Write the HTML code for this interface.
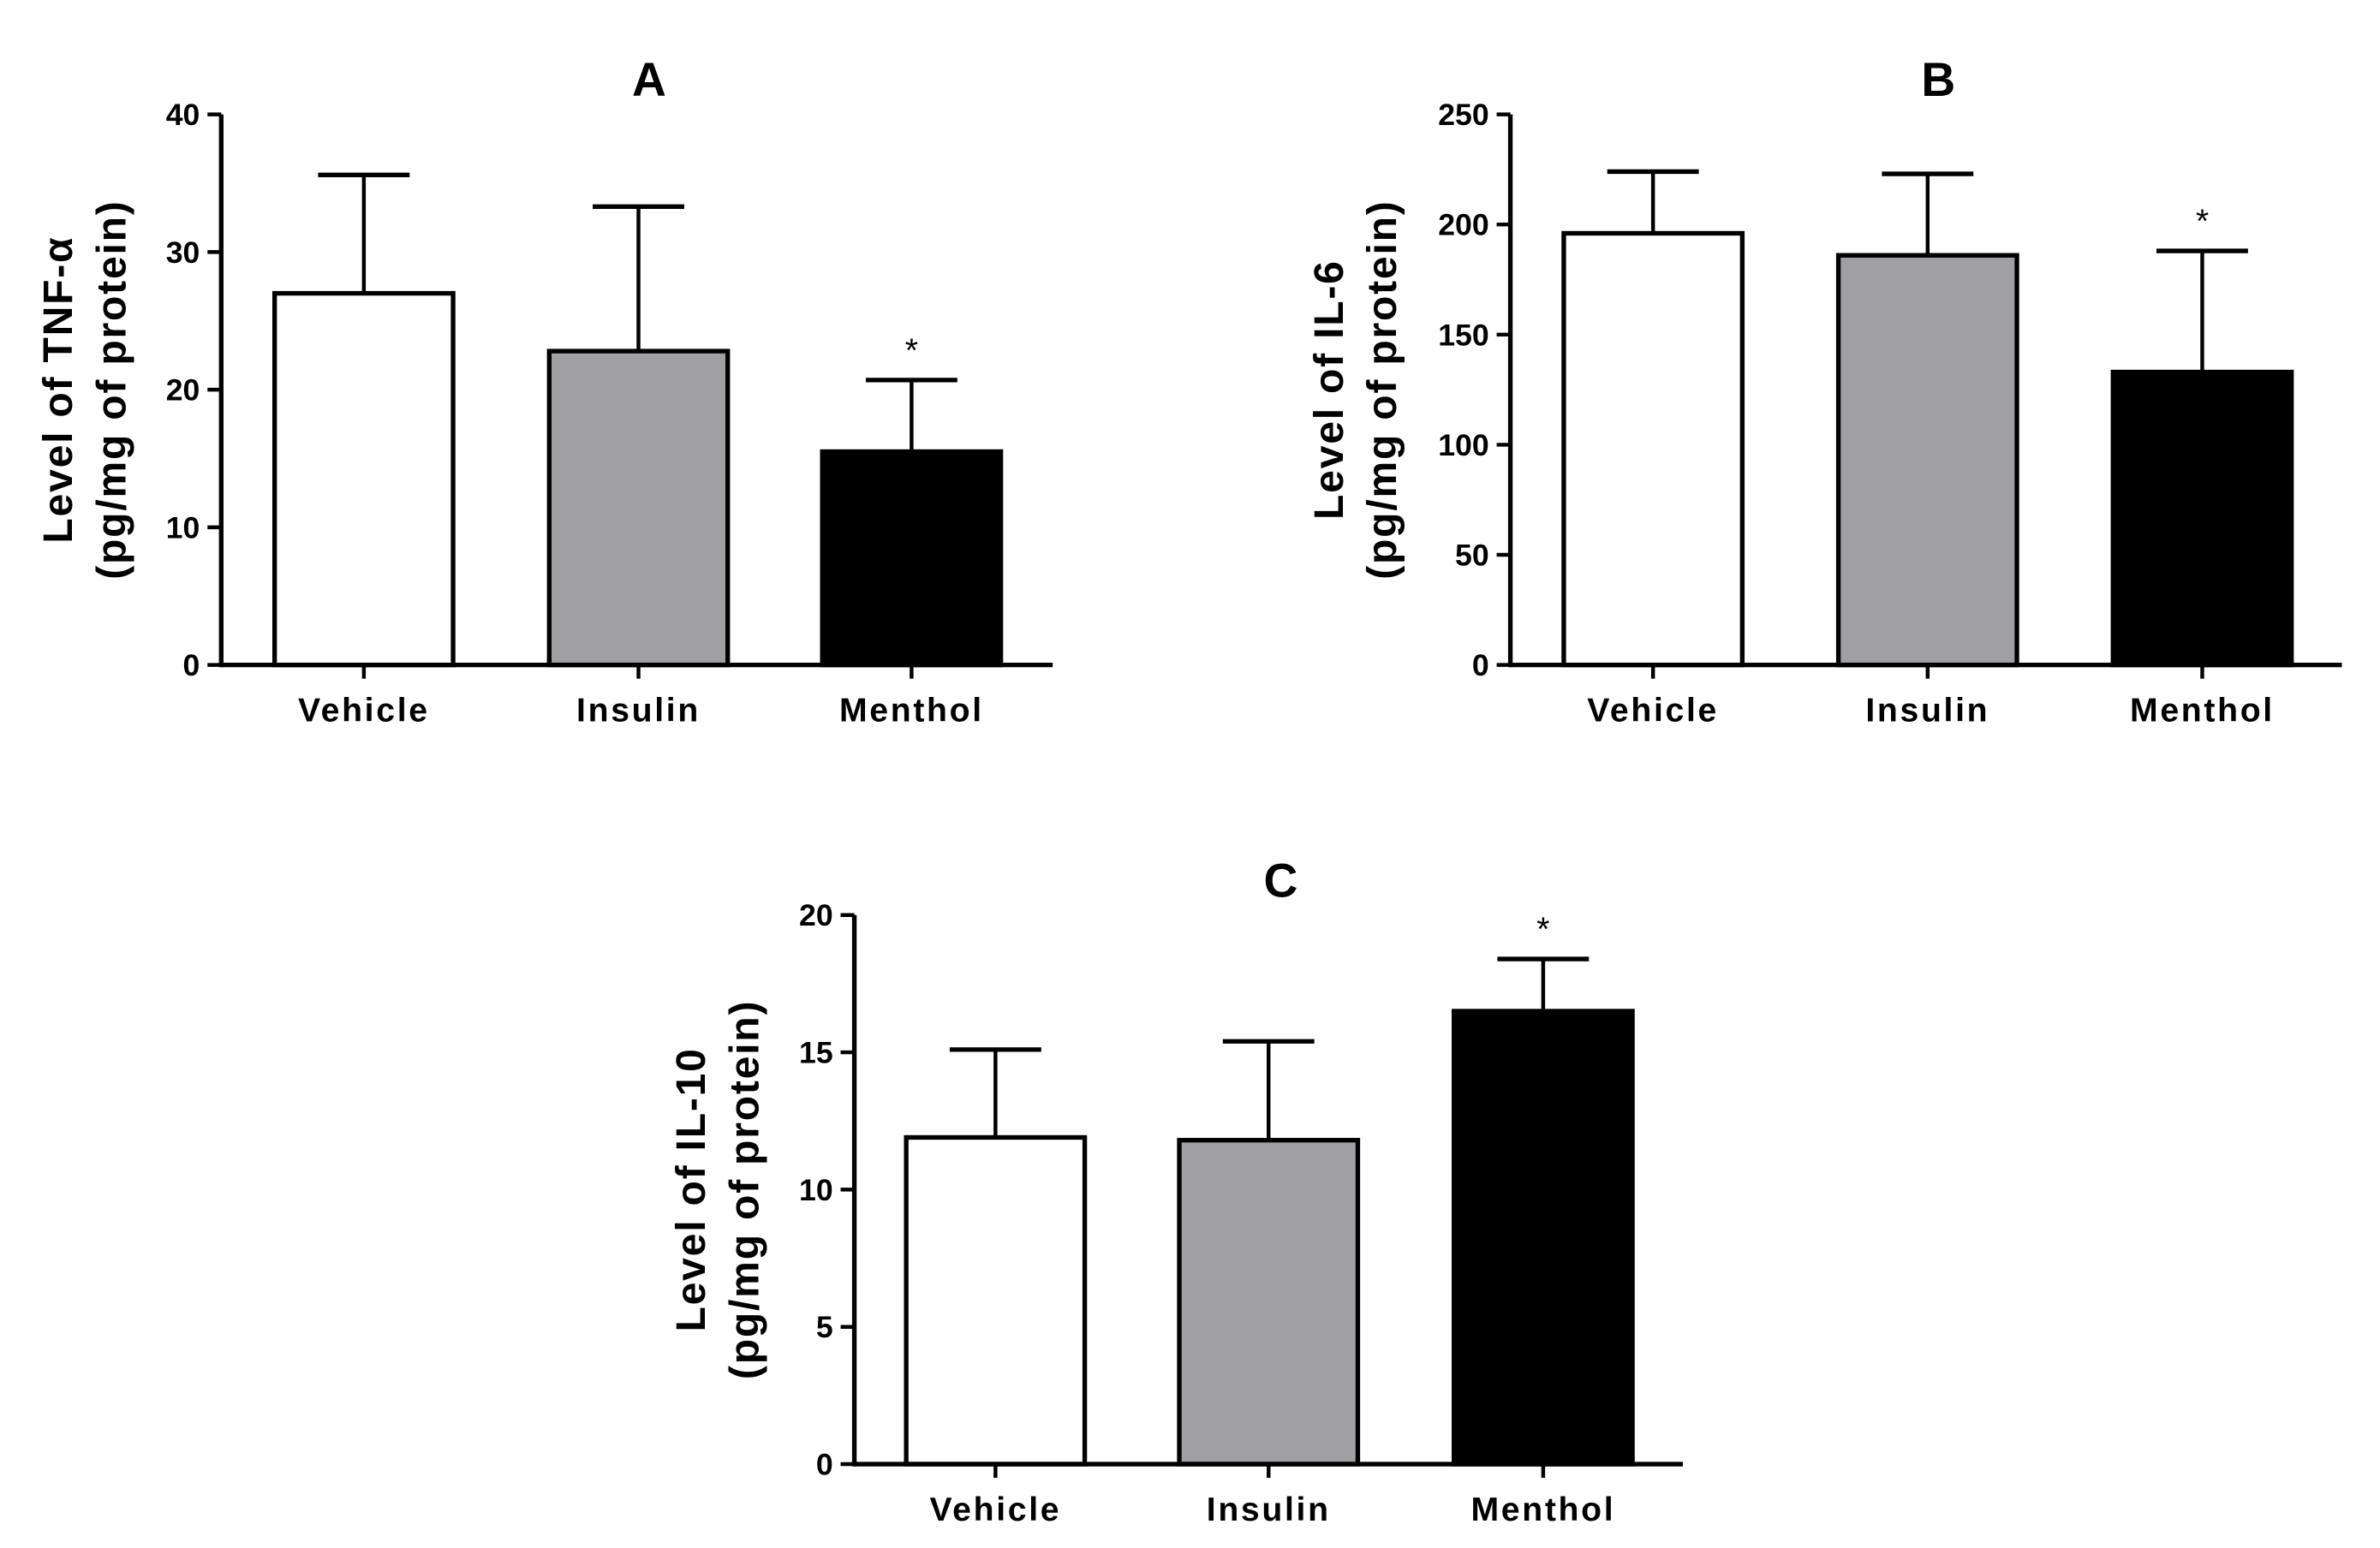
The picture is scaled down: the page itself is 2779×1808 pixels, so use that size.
<!DOCTYPE html>
<html><head><meta charset="utf-8">
<style>
html,body{margin:0;padding:0;background:#fff;}
svg{display:block;font-family:"Liberation Sans",Arial,sans-serif;font-weight:bold;}
</style></head>
<body>
<svg id="fig" width="2779" height="1808" viewBox="0 0 1560 1015" preserveAspectRatio="none" xmlns="http://www.w3.org/2000/svg"></svg>
<script>
const categories = ["Vehicle","Insulin","Menthol"];
const fills = ["#ffffff","#a0a0a2","#000000"];
const tnfMeans = [27.0, 22.8, 15.5];
const tnfErrTops = [35.6, 33.3, 20.7];
const tnfTicks = [0,10,20,30,40];
const il6Means = [196, 186, 133];
const il6ErrTops = [224, 223, 188];
const il6Ticks = [0,50,100,150,200,250];
const il10Means = [11.9, 11.8, 16.5];
const il10ErrTops = [15.1, 15.4, 18.4];
const il10Ticks = [0,5,10,15,20];
const sigFlags = [[false,false,true],[false,false,true],[false,false,true]];

const NS="http://www.w3.org/2000/svg";
const svg=document.getElementById('fig');
function mk(tag,attrs,parent){const e=document.createElementNS(NS,tag);for(const k in attrs)e.setAttribute(k,attrs[k]);(parent||svg).appendChild(e);return e;}

const panels=[
 {key:"a",title:"A",ax:145,x1:690,y0:436,yTop:75,ymax:40,means:tnfMeans,errs:tnfErrTops,ticks:tnfTicks,bars:[180,360,539],ylab:["Level of TNF-α","(pg/mg of protein)"],labX:[40,75],sig:sigFlags[0]},
 {key:"b",title:"B",ax:990,x1:1535,y0:436,yTop:75,ymax:250,means:il6Means,errs:il6ErrTops,ticks:il6Ticks,bars:[1025,1205,1385],ylab:["Level of IL-6","(pg/mg of protein)"],labX:[873,908],sig:sigFlags[1]},
 {key:"c",title:"C",ax:560,x1:1103,y0:960,yTop:600,ymax:20,means:il10Means,errs:il10ErrTops,ticks:il10Ticks,bars:[594,773,953],ylab:["Level of IL-10","(pg/mg of protein)"],labX:[455,490],sig:sigFlags[2]}
];
const BW=117;
panels.forEach(p=>{
  const g=mk('g',{});
  
  
  const y=v=>p.y0-(v/p.ymax)*(p.y0-p.yTop);
  const t=mk('text',{x:(p.ax+p.x1)/2+8,y:p.yTop-12,'font-size':31,'text-anchor':'middle'},g);
  t.textContent=p.title;
  
  
  p.means.forEach((m,i)=>{
    const bx=p.bars[i], cx=bx+BW/2;
    const e=mk('line',{x1:cx,x2:cx,y1:y(m),y2:y(p.errs[i]),stroke:'#000','stroke-width':2.5},g);
    
    
    const cap=mk('line',{x1:cx-30,x2:cx+30,y1:y(p.errs[i]),y2:y(p.errs[i]),stroke:'#000','stroke-width':3},g);
    
    
    const r=mk('rect',{x:bx,y:y(m),width:BW,height:p.y0-y(m),fill:fills[i],stroke:'#000','stroke-width':3},g);
    
    
    if(p.sig[i]){
      const s=mk('text',{x:cx,y:y(p.errs[i])-12,'font-size':22,'text-anchor':'middle','font-weight':'normal'},g);
      s.textContent='*';
      
      
    }
    const tk=mk('line',{x1:cx,x2:cx,y1:p.y0,y2:p.y0+9,stroke:'#000','stroke-width':2.5},g);
    
    
    const lb=mk('text',{x:cx,y:p.y0+37,'font-size':22,'text-anchor':'middle','letter-spacing':'1.5'},g);
    lb.textContent=categories[i];
    
    
  });
  const xa=mk('line',{x1:p.ax,x2:p.x1,y1:p.y0,y2:p.y0,stroke:'#000','stroke-width':3},g);
  
  
  const ya=mk('line',{x1:p.ax,x2:p.ax,y1:p.yTop,y2:p.y0+1.5,stroke:'#000','stroke-width':3},g);
  
  
  p.ticks.forEach(v=>{
    const tk=mk('line',{x1:p.ax-9,x2:p.ax,y1:y(v),y2:y(v),stroke:'#000','stroke-width':2.5},g);
    
    
    const tl=mk('text',{x:p.ax-14,y:y(v)+7,'font-size':20,'text-anchor':'end'},g);
    tl.textContent=v;
    
    
  });
  const cy=(p.y0+p.yTop)/2;
  p.ylab.forEach((s,k)=>{
    const lx=p.labX[k];
    const tl=mk('text',{x:lx,y:cy,'font-size':27,'text-anchor':'middle',transform:`rotate(-90 ${lx} ${cy})`,'dominant-baseline':'middle','letter-spacing':'1'},g);
    tl.textContent=s;
    
    
  });
});
</script>
</body></html>
